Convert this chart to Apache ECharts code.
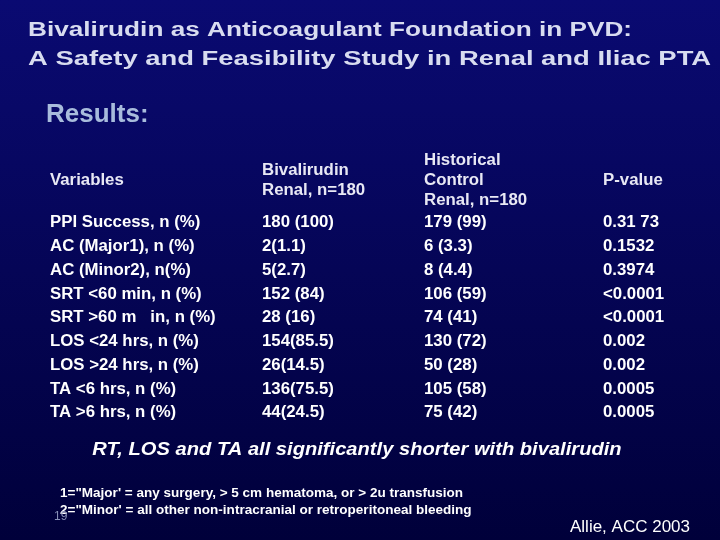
<!DOCTYPE html>
<html>
<head>
<meta charset="UTF-8">
<script src="https://cdn.jsdelivr.net/npm/echarts@6/dist/echarts.min.js"></script>
<style>html,body{margin:0;padding:0;}#main{width:720px;height:540px;}</style>
</head>
<body>
<div id="main"></div>
<script>
var titleLines = ['Bivalirudin as Anticoagulant Foundation in PVD:', 'A Safety and Feasibility Study in Renal and Iliac PTA'];
var headers = [['Variables'], ['Bivalirudin', 'Renal, n=180'], ['Historical', 'Control', 'Renal, n=180'], ['P-value']];
var variables = ['PPI Success, n (%)', 'AC (Major1), n (%)', 'AC (Minor2), n(%)', 'SRT <60 min, n (%)', 'SRT >60 m   in, n (%)',
  'LOS <24 hrs, n (%)', 'LOS >24 hrs, n (%)', 'TA <6 hrs, n (%)', 'TA >6 hrs, n (%)'];
var bivalirudin = ['180 (100)', '2(1.1)', '5(2.7)', '152 (84)', '28 (16)', '154(85.5)', '26(14.5)', '136(75.5)', '44(24.5)'];
var historical = ['179 (99)', '6 (3.3)', '8 (4.4)', '106 (59)', '74 (41)', '130 (72)', '50 (28)', '105 (58)', '75 (42)'];
var pValues = ['0.31 73', '0.1532', '0.3974', '<0.0001', '<0.0001', '0.002', '0.002', '0.0005', '0.0005'];
var footnotes = ["1=\"Major' = any surgery, > 5 cm hematoma, or > 2u transfusion", "2=\"Minor' = all other non-intracranial or retroperitoneal bleeding"];

var colX = [50, 262, 424, 603];
var ff = ' Arial, "Liberation Sans", sans-serif';
var font = 'bold 16px' + ff;
var els = [];
function txt(x, y, s, f, color, align, sx) {
  els.push({ type: 'text', x: x, y: y, scaleX: sx || 1,
    style: { text: s, font: f, fill: color || '#fff', textAlign: align || 'left', textVerticalAlign: 'middle' } });
}
titleLines.forEach(function (t, i) {
  txt(28, 30 + i * 29, t, 'bold 20px' + ff, '#D8DCF0', 'left', i === 0 ? 1.31 : 1.37);
});
txt(46, 115, 'Results:', 'bold 26px' + ff, '#A8BCDC');
headers.forEach(function (h, c) {
  var y0 = 181 - (h.length - 1) * 10;
  h.forEach(function (line, k) { txt(colX[c], y0 + k * 20, line, font, '#E8E8F4', 'left', 1.05); });
});
var cols = [variables, bivalirudin, historical, pValues];
cols.forEach(function (col, c) {
  col.forEach(function (v, r) { txt(colX[c], 223 + r * 23.75, v, font, '#fff', 'left', 1.05); });
});
txt(357, 450, 'RT, LOS and TA all significantly shorter with bivalirudin', 'italic bold 19px' + ff, '#fff', 'center', 1.06);
footnotes.forEach(function (f, i) { txt(60, 493 + i * 17, f, 'bold 13px' + ff, '#fff', 'left', 1.04); });
txt(54, 517, '19', '12px' + ff, '#8890B8');
txt(570, 527, 'Allie, ACC 2003', '17px' + ff, '#fff');

var chart = echarts.init(document.getElementById('main'));
chart.setOption({
  backgroundColor: new echarts.graphic.LinearGradient(0, 0, 0, 1, [
    { offset: 0, color: '#0A0A72' }, { offset: 1, color: '#00003A' }]),
  graphic: els
});
</script>
</body>
</html>
